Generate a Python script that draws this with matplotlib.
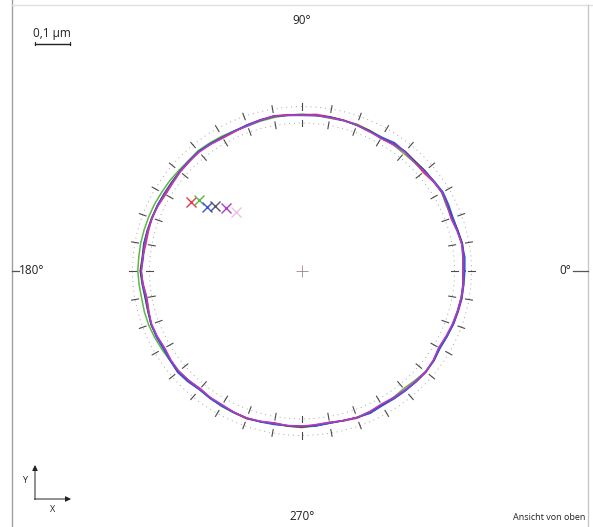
import numpy as np
import matplotlib
matplotlib.use("Agg")
import matplotlib.pyplot as plt

# Roundness profiles: radial deviation in nm at every 5 degrees (0..355)
angles_deg = list(range(0, 360, 5))
dev_red = [5, 7, 8, 3, -3, 2, 6, 1, -5, -2, 2, -3, -6, -2, 1, 3, 4, 6, 3, 5,
           7, 3, 0, -4, -5, -1, 2, -2, -3, -6, -7, -3, -1, -3, -4, 0, 4, -2, -7, -4,
           2, 0, -3, 1, 5, 0, -5, -1, 0, 3, 6, 2, -3, 1, 3, -2, -5, 0, 4, 1,
           -3, 0, 1, 4, 6, 1, -5, -2, 3, 5, 7, 6]
dev_green = [2, 4, 6, 3, 0, -2, 4, 2, -3, -4, -5, -3, -2, 0, 3, 1, 0, 3, 5, 4,
             2, 0, -3, -1, 1, 3, 5, 2, 3, 5, 6, 8, 9, 10, 11, 11, 12, 10, 8, 9,
             9, 7, 5, 3, 2, 0, -2, 0, 3, 4, 5, 2, 0, 2, 4, 1, -3, -1, 2, 0,
             0, -2, -5, -1, 4, 2, -2, 0, 1, 3, 5, 4]
dev_blue = [8, 10, 7, 3, 2, 5, 8, 4, 0, -3, 1, 4, -2, -4, 0, 2, 3, 2, 1, 3,
            6, 4, 1, -2, -3, 0, 2, 1, -1, -4, -3, -1, -2, 0, 1, -2, 2, 0, -4, -2,
            1, 2, 0, 3, 7, 4, -1, 1, 2, 3, 4, 3, 2, 0, -1, 1, -2, -1, 2, 5,
            1, 2, 3, 4, 5, 3, -2, 0, 3, 4, 6, 7]
dev_black = [4, 6, 8, 4, 1, 2, 5, 3, 2, 0, 2, 0, -4, -1, 0, 2, 3, 3, 2, 3,
             5, 2, 0, -2, -2, 0, 2, 0, -1, -2, -2, -1, 0, 1, 2, 1, 5, 1, -2, -1,
             2, 1, 0, 2, 4, 2, -2, 0, 1, 2, 4, 2, 0, 1, 2, 0, -2, -1, 2, 4,
             -1, 1, 2, 3, 4, 3, -3, -1, 2, 3, 5, 5]
dev_magenta = [3, 5, 6, 1, -4, 0, 5, 2, -2, -3, 0, -2, -6, -3, 1, 2, 1, 4, 2, 4,
               6, 2, -2, -3, -4, -2, 0, -1, -2, -5, -5, -3, -1, -1, -2, 0, 2, -1, -6, -3,
               0, -1, -4, 0, 2, -1, -4, -2, -2, 2, 4, 1, -2, 0, 0, -3, -4, -1, 2, 0,
               -4, -2, 0, 2, 4, 1, -6, -3, 0, 2, 4, 5]

# Centre positions of each measurement (plot units)
centre_x = [-111, -103, -95, -87, -76, -66]
centre_y = [71, 73, 66, 67, 65, 61]

tick_angles = list(range(0, 360, 10))
axis_labels = ["0°", "90°", "180°", "270°"]
scale_label = "0,1 µm"

# Drawing parameters
R_NOM = 160.0          # nominal radius in plot units
UNITS_PER_NM = 0.35    # 0.1 µm -> 35 units
R_OUT, R_IN = 169.5, 152.5
Y_SQUASH = 0.97

fig = plt.figure(figsize=(5.93, 5.27), dpi=100)
ax = fig.add_axes([0, 0, 1, 1])
ax.set_xlim(-302, 291)
ax.set_ylim(-256 / Y_SQUASH, 271 / Y_SQUASH)
ax.axis("off")


def px(x, y):
    """Convert image-pixel position to plot coordinates."""
    return x - 302, (271 - y) / Y_SQUASH


# frame lines
ax.plot(*zip(px(12, 0), px(12, 527)), color="#a0a0a0", lw=1.0)
ax.plot(*zip(px(12, 5), px(593, 5)), color="#e0e0e0", lw=1.0)
ax.plot(*zip(px(588, 5), px(588, 527)), color="#c8c8c8", lw=1.0)

# tolerance circles (dotted)
t = np.linspace(0, 2 * np.pi, 400)
for r in (R_OUT, R_IN):
    ax.plot(r * np.cos(t), r * np.sin(t), color="#a5a5a5", lw=0.7,
            ls=(0, (1, 4)))

# angular ticks every 10 degrees
for a in np.deg2rad(tick_angles):
    c, s = np.cos(a), np.sin(a)
    for r0, r1 in ((R_OUT - 3.5, R_OUT + 3.5), (R_IN - 3.5, R_IN + 3.5)):
        ax.plot([r0 * c, r1 * c], [r0 * s, r1 * s], color="#4a4a4a", lw=0.8)

# profiles
series = [
    (dev_green, "#5fb548"),
    (dev_red, "#e8384a"),
    (dev_black, "#3a3a3a"),
    (dev_blue, "#3a55d8"),
    (dev_magenta, "#b03cc8"),
]
th = np.deg2rad(angles_deg + [360])
for dev, col in series:
    d = np.array(dev + dev[:1], dtype=float)
    r = R_NOM + d * UNITS_PER_NM
    ax.plot(r * np.cos(th), r * np.sin(th), color=col, lw=1.1)

# measurement centres
cross_cols = ["#e8384a", "#5fb548", "#3a55d8", "#555577", "#b03cc8", "#f0c0e0"]
for x, y, col in zip(centre_x, centre_y, cross_cols):
    ax.plot(x, y, marker="x", ms=7, mew=1.0, color=col, ls="none")

# origin mark
ax.plot(0, 0, marker="+", ms=8, mew=0.6, color="#a08090", ls="none")

font = "Open Sans"
tc = "#222222"
fs = 8.5
# angle labels
ax.text(*px(302, 21), axis_labels[1], ha="center", va="center",
        fontsize=fs, family=font, color=tc)
ax.text(*px(302, 517), axis_labels[3], ha="center", va="center",
        fontsize=fs, family=font, color=tc)
ax.text(*px(19, 271), axis_labels[2], ha="left", va="center",
        fontsize=fs, family=font, color=tc)
ax.text(*px(571, 271), axis_labels[0], ha="right", va="center",
        fontsize=fs, family=font, color=tc)
ax.plot(*zip(px(12, 271), px(19, 271)), color="#555555", lw=0.9)
ax.plot(*zip(px(573, 271), px(588, 271)), color="#555555", lw=0.9)

# scale bar
ax.text(*px(52, 34), scale_label, ha="center", va="center",
        fontsize=fs, family=font, color=tc)
ax.plot(*zip(px(35, 44), px(70, 44)), color="#222222", lw=1.0)
for xx in (35, 70):
    ax.plot(*zip(px(xx, 42.5), px(xx, 45.5)), color="#222222", lw=0.8)

# coordinate system glyph
ax.annotate("", xy=px(35, 465), xytext=px(35, 499.5),
            arrowprops=dict(arrowstyle="-|>", color="#222222", lw=0.7,
                            mutation_scale=8, shrinkA=0, shrinkB=0))
ax.annotate("", xy=px(71, 499), xytext=px(34.5, 499),
            arrowprops=dict(arrowstyle="-|>", color="#222222", lw=0.7,
                            mutation_scale=8, shrinkA=0, shrinkB=0))
ax.text(*px(25, 481), "Y", ha="center", va="center", fontsize=6.5,
        family=font, color=tc)
ax.text(*px(53, 510), "X", ha="center", va="center", fontsize=6.5,
        family=font, color=tc)

ax.text(*px(585, 517), "Ansicht von oben", ha="right", va="center",
        fontsize=6.5, family=font, color=tc)

fig.savefig("out.png", dpi=100, facecolor="white")
